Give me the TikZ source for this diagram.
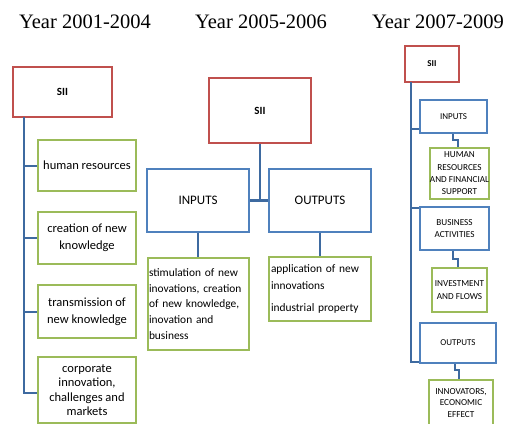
\documentclass[tikz,border=0pt]{standalone}
\usepackage{fontspec}
\setmainfont{Carlito}
\newfontfamily\headfont{Liberation Serif}
\usetikzlibrary{positioning}
\definecolor{siired}{RGB}{192,80,77}
\definecolor{boxblue}{RGB}{79,129,189}
\definecolor{linkblue}{RGB}{62,106,160}
\definecolor{boxgreen}{RGB}{155,187,89}

\tikzset{
  yearlabel/.style={inner sep=0pt, font=\headfont\fontsize{20.5}{24}\selectfont},
  siibox/.style={draw=siired, line width=2pt, inner sep=0pt, font=\bfseries\fontsize{11}{13}\selectfont},
  groupbox/.style={draw=boxblue, line width=2pt, inner sep=0pt, align=center},
  itembox/.style={draw=boxgreen, line width=2pt, inner sep=0pt, align=center},
  link/.style={draw=linkblue, line width=2pt},
}

\begin{document}
\begin{tikzpicture}[x=1pt,y=1pt,yscale=-1]
\useasboundingbox (0,0) rectangle (514,423);

% Text Node
\node [yearlabel] (y1) at (85,22) {Year 2001-2004};
% Text Node
\node [yearlabel] (y2) at (261,22) {Year 2005-2006};
% Text Node
\node [yearlabel] (y3) at (438,22) {Year 2007-2009};

%left column
\node [siibox, minimum width=99, minimum height=50] (sa) at (62.5,92) {SII};
\node [itembox, minimum width=98, minimum height=51, font=\fontsize{12.5}{17}\selectfont] (ha) at (87,165.5) {human resources};
\node [itembox, minimum width=98, minimum height=52, font=\fontsize{12.5}{17}\selectfont] (hb) at (87,238) {creation of new\\knowledge};
\node [itembox, minimum width=98, minimum height=53, font=\fontsize{12.5}{17}\selectfont] (hc) at (87,311.5) {transmission of\\new knowledge};
\node [itembox, minimum width=98, minimum height=66, font=\fontsize{12.5}{14.6}\selectfont] (hd) at (87,390) {corporate\\innovation,\\challenges and\\markets};
\coordinate (ta) at (24,117);
\coordinate (tb) at (24,393);
\draw [link] (ta) -- (tb) -- (tb -| hd.west);
\draw [link] (ta |- ha) -- (ha.west);
\draw [link] (ta |- hb) -- (hb.west);
\draw [link] (ta |- hc) -- (hc.west);

%middle column
\node [siibox, minimum width=102, minimum height=65] (sb) at (260,110.5) {SII};
\node [groupbox, minimum width=102, minimum height=63, font=\fontsize{13}{15}\selectfont] (ib) at (198,200.5) {INPUTS};
\node [groupbox, minimum width=102, minimum height=63, font=\fontsize{13}{15}\selectfont] (ob) at (320,200.5) {OUTPUTS};
\node [itembox, minimum width=101, minimum height=92, text width=99, align=left, inner xsep=1pt, font=\fontsize{11.4}{15.6}\selectfont] (gi) at (198.5,304) {stimulation of new\\inovations, creation\\of new knowledge,\\inovation and\\business};
\node [itembox, minimum width=102, minimum height=64, text width=98, align=left, inner xsep=2pt, font=\fontsize{11.4}{16.5}\selectfont] (go) at (320,289) {application of new\\innovations\\[6pt]industrial property};
\draw [link] (sb.south) -- (sb.south |- ib.east);
\draw [link, line width=3pt] (ib.east) -- (ob.west);
\draw [link] (ib.south) -- (ib.south |- gi.north);
\draw [link] (ob.south) -- (ob.south |- go.north);

%right column
\node [siibox, minimum width=54, minimum height=36, font=\bfseries\fontsize{9}{10}\selectfont] (sc) at (432,64) {SII};
\node [groupbox, minimum width=67, minimum height=33, font=\fontsize{9}{12}\selectfont] (ic) at (453.5,116.5) {INPUTS};
\node [itembox, minimum width=59, minimum height=51, font=\fontsize{9.2}{12.3}\selectfont] (gc) at (459.5,173.5) {HUMAN\\RESOURCES\\AND FINANCIAL\\SUPPORT};
\node [groupbox, minimum width=69, minimum height=43, font=\fontsize{9.2}{12}\selectfont] (bc) at (454.5,228.5) {BUSINESS\\ACTIVITIES};
\node [itembox, minimum width=55, minimum height=44, font=\fontsize{9.2}{12.5}\selectfont] (vc) at (459.5,290) {INVESTMENT\\AND FLOWS};
\node [groupbox, minimum width=76, minimum height=40, font=\fontsize{9}{12}\selectfont] (oc) at (458,343) {OUTPUTS};
\node [itembox, minimum width=64, minimum height=46, font=\fontsize{9.2}{11.8}\selectfont] (nc) at (461,403) {INNOVATORS,\\ECONOMIC\\EFFECT};
\coordinate (rt) at (411,82);
\coordinate (rb) at (411,362);
\coordinate (ra) at (411,129);
\coordinate (rc) at (411,208);
\draw [link] (rt) -- (rb) -- (rb -| oc.west);
\draw [link] (ra) -- (ra -| ic.west);
\draw [link] (rc) -- (rc -| bc.west);
%elbows
\coordinate (ka) at (453,140);
\coordinate (la) at (458,140);
\coordinate (kb) at (453,259);
\coordinate (lb) at (458,259);
\coordinate (kc) at (455,370);
\coordinate (lc) at (459,370);
\draw [link] (ka |- ic.south) -- (ka) -- (la) -- (la |- gc.north);
\draw [link] (kb |- bc.south) -- (kb) -- (lb) -- (lb |- vc.north);
\draw [link] (kc |- oc.south) -- (kc) -- (lc) -- (lc |- nc.north);

\end{tikzpicture}
\end{document}
